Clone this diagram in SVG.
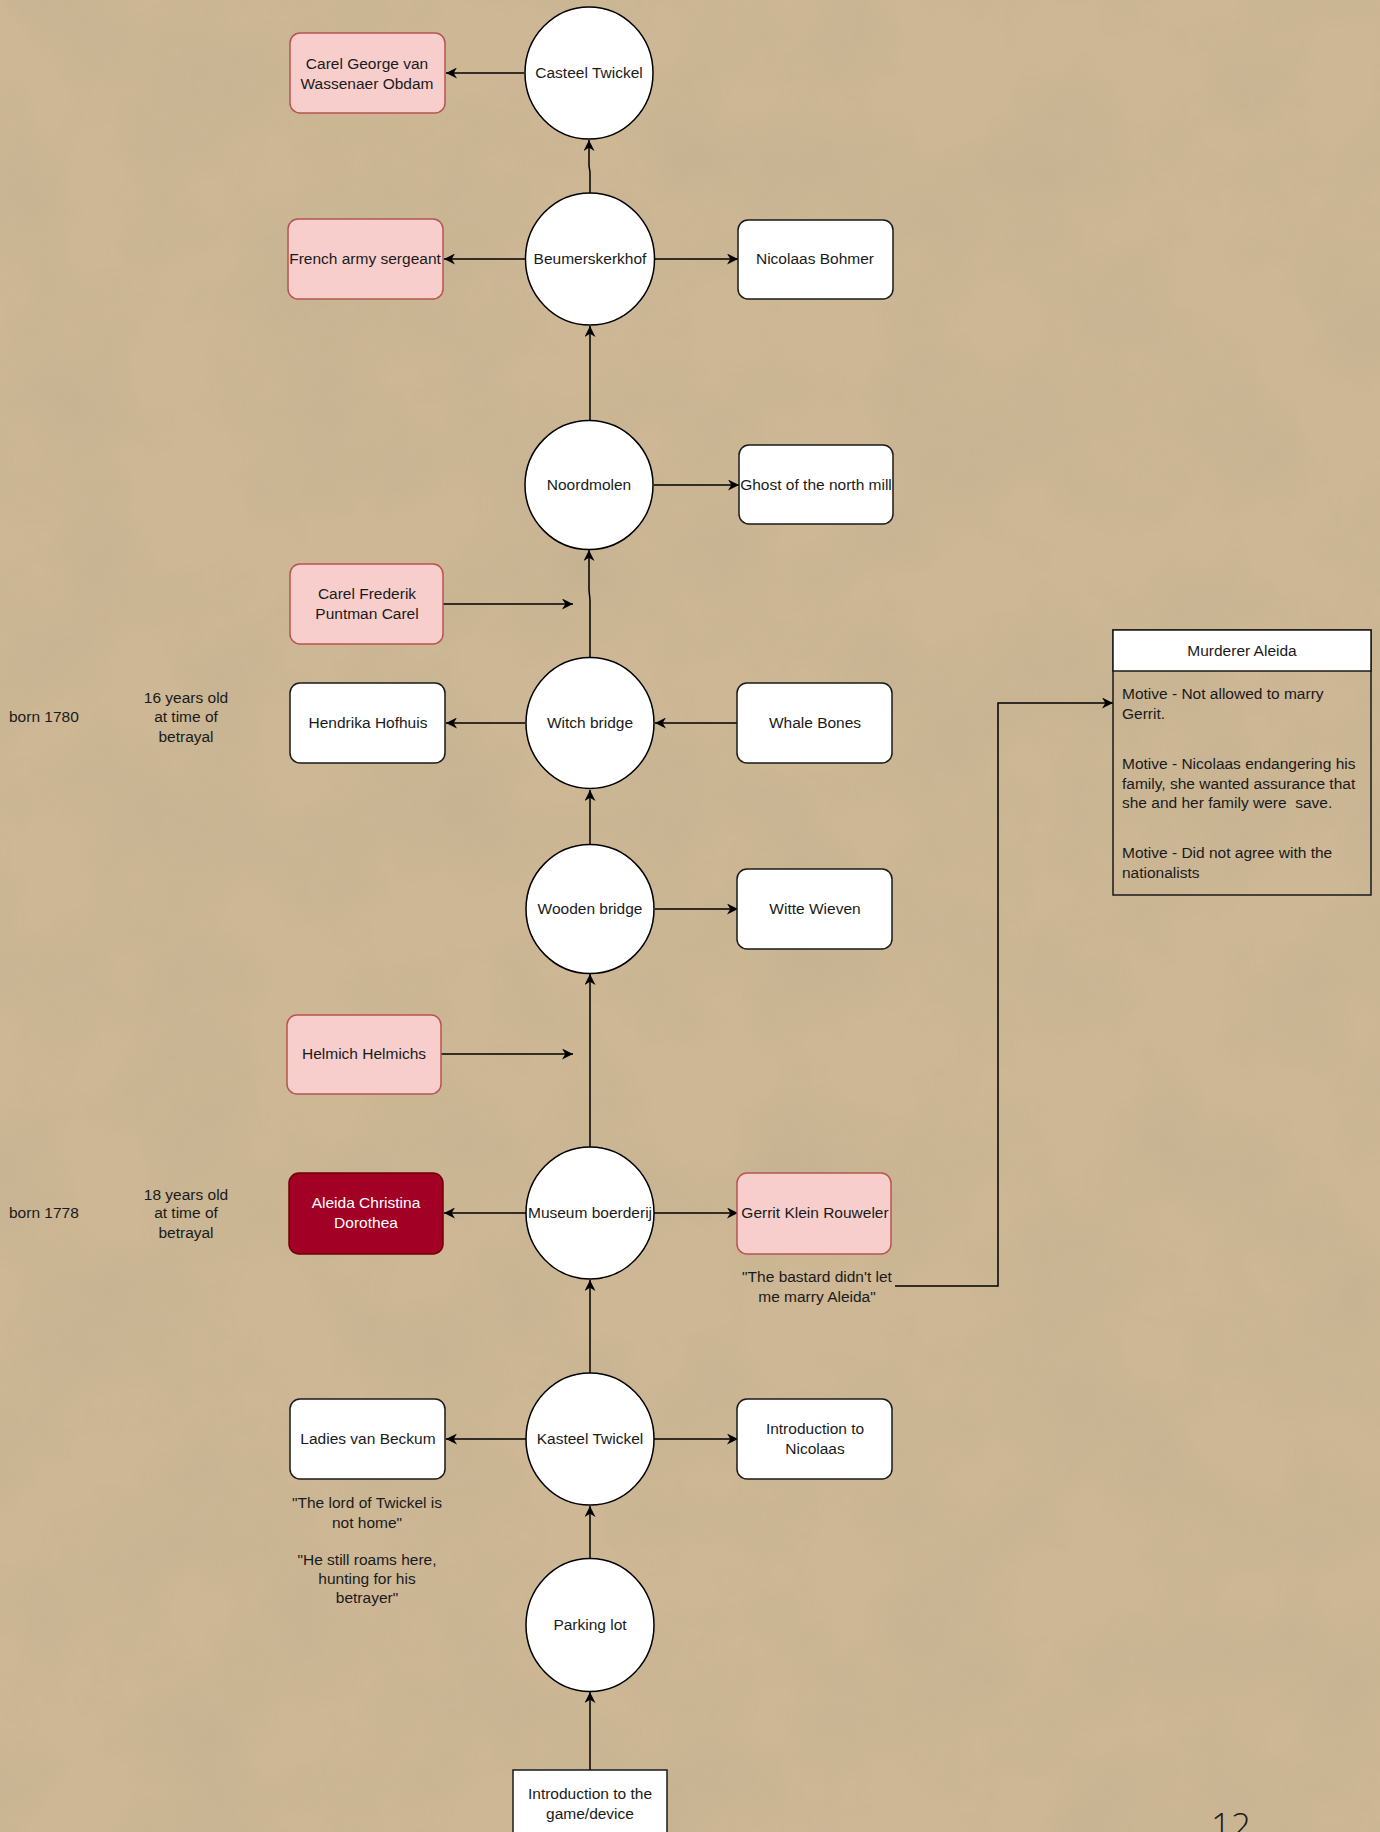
<svg xmlns="http://www.w3.org/2000/svg" width="1380" height="1832" viewBox="0 0 1380 1832">
<style>
text{font-family:"Liberation Sans",Arial,sans-serif;font-size:15.5px;fill:#1a1a1a}
.c{text-anchor:middle}
.l{text-anchor:start}
.loc{fill:#fff;stroke:#000;stroke-width:1.5}
.box{fill:#fff;stroke:#1a1a1a;stroke-width:1.5}
.pink{fill:#f8cecc;stroke:#b85450;stroke-width:1.5}
.dark{fill:#a20025;stroke:#6f0000;stroke-width:1.5}
.w{fill:#fff}
.edge{fill:none;stroke:#000;stroke-width:1.5;marker-end:url(#arr)}
</style>
<defs>
<marker id="arr" viewBox="0 0 10 10" refX="10" refY="5" markerWidth="11" markerHeight="11" markerUnits="userSpaceOnUse" orient="auto"><path d="M0,0 L10,5 L0,10 L3,5 z" fill="#000"/></marker>
<filter id="paper" x="0" y="0" width="100%" height="100%">
<feTurbulence type="fractalNoise" baseFrequency="0.008" numOctaves="4" seed="7"/>
<feColorMatrix type="matrix" values="0 0 0 0 0.55 0 0 0 0 0.44 0 0 0 0 0.28 0 0 0 1.6 -0.6"/>
</filter>
</defs>
<rect x="0" y="0" width="1380" height="1832" fill="#cdb795"/>
<rect x="0" y="0" width="1380" height="1832" filter="url(#paper)" opacity="0.85"/>

<g id="connectors">
<path class="edge" d="M590,193 V172 L589,166 V140"/>
<path class="edge" d="M524,73 H446"/>
<path class="edge" d="M525,259 H444"/>
<path class="edge" d="M655,259 H738"/>
<path class="edge" d="M590,421 V326"/>
<path class="edge" d="M654,485 H739"/>
<path class="edge" d="M443,604 H573"/>
<path class="edge" d="M590,658 V600 L589,590 V550"/>
<path class="edge" d="M525,723 H446"/>
<path class="edge" d="M737,723 H655"/>
<path class="edge" d="M590,845 V790"/>
<path class="edge" d="M655,909 H738"/>
<path class="edge" d="M441,1054 H573"/>
<path class="edge" d="M590,1148 V974"/>
<path class="edge" d="M526,1213 H444"/>
<path class="edge" d="M654,1213 H738"/>
<path class="edge" d="M895,1286 H998 V703 H1113"/>
<path class="edge" d="M590,1373 V1280"/>
<path class="edge" d="M526,1439 H446"/>
<path class="edge" d="M654,1439 H738"/>
<path class="edge" d="M590,1558 V1506"/>
<path class="edge" d="M590,1770 V1692"/>
</g>

<g id="casteel-twickel"><ellipse class="loc" cx="589" cy="73" rx="64" ry="66"/><text class="c" x="589" y="78">Casteel Twickel</text></g>
<g id="carel-george"><rect class="pink" x="290" y="33" width="155" height="80" rx="10"/><text class="c" x="367" y="69">Carel George van</text><text class="c" x="367" y="89">Wassenaer Obdam</text></g>

<g id="beumerskerkhof"><ellipse class="loc" cx="590" cy="259" rx="64.5" ry="66"/><text class="c" x="590" y="264">Beumerskerkhof</text></g>
<g id="french-army"><rect class="pink" x="288" y="219" width="155" height="80" rx="10"/><text class="c" x="365" y="264">French army sergeant</text></g>
<g id="nicolaas-bohmer"><rect class="box" x="738" y="220" width="155" height="79" rx="10"/><text class="c" x="815" y="264">Nicolaas Bohmer</text></g>

<g id="noordmolen"><ellipse class="loc" cx="589" cy="485" rx="64" ry="64.5"/><text class="c" x="589" y="490">Noordmolen</text></g>
<g id="ghost"><rect class="box" x="739" y="445" width="154" height="79" rx="10"/><text class="c" x="816" y="490">Ghost of the north mill</text></g>

<g id="carel-frederik"><rect class="pink" x="290" y="564" width="153" height="80" rx="10"/><text class="c" x="367" y="599">Carel Frederik</text><text class="c" x="367" y="619">Puntman Carel</text></g>

<g id="witch-bridge"><ellipse class="loc" cx="590" cy="723" rx="64" ry="65.5"/><text class="c" x="590" y="728">Witch bridge</text></g>
<g id="hendrika"><rect class="box" x="290" y="683" width="155" height="80" rx="10"/><text class="c" x="368" y="728">Hendrika Hofhuis</text></g>
<g id="whale-bones"><rect class="box" x="737" y="683" width="155" height="80" rx="10"/><text class="c" x="815" y="728">Whale Bones</text></g>
<g id="born-1780"><text class="l" x="9" y="722">born 1780</text></g>
<g id="age-16"><text class="c" x="186" y="703">16 years old</text><text class="c" x="186" y="722">at time of</text><text class="c" x="186" y="742">betrayal</text></g>

<g id="wooden-bridge"><ellipse class="loc" cx="590" cy="909" rx="64" ry="64.5"/><text class="c" x="590" y="914">Wooden bridge</text></g>
<g id="witte-wieven"><rect class="box" x="737" y="869" width="155" height="80" rx="10"/><text class="c" x="815" y="914">Witte Wieven</text></g>

<g id="helmich"><rect class="pink" x="287" y="1015" width="154" height="79" rx="10"/><text class="c" x="364" y="1059">Helmich Helmichs</text></g>

<g id="museum-boerderij"><ellipse class="loc" cx="590" cy="1213" rx="64" ry="66"/><text class="c" x="590" y="1218">Museum boerderij</text></g>
<g id="aleida"><rect class="dark" x="289" y="1173" width="154" height="81" rx="10"/><text class="c w" x="366" y="1208">Aleida Christina</text><text class="c w" x="366" y="1228">Dorothea</text></g>
<g id="gerrit"><rect class="pink" x="737" y="1173" width="154" height="81" rx="10"/><text class="c" x="815" y="1218">Gerrit Klein Rouweler</text></g>
<g id="gerrit-quote"><text class="c" x="817" y="1282">"The bastard didn't let</text><text class="c" x="817" y="1302">me marry Aleida"</text></g>
<g id="born-1778"><text class="l" x="9" y="1218">born 1778</text></g>
<g id="age-18"><text class="c" x="186" y="1200">18 years old</text><text class="c" x="186" y="1218">at time of</text><text class="c" x="186" y="1238">betrayal</text></g>

<g id="murderer-aleida">
<rect x="1113" y="630" width="258" height="265" fill="none" stroke="#1a1a1a" stroke-width="1.5"/>
<rect x="1113" y="630" width="258" height="41" fill="#fff" stroke="#1a1a1a" stroke-width="1.5"/>
<text class="c" x="1242" y="656">Murderer Aleida</text>
<text class="l" x="1122" y="699">Motive - Not allowed to marry</text>
<text class="l" x="1122" y="719">Gerrit.</text>
<text class="l" x="1122" y="769">Motive - Nicolaas endangering his</text>
<text class="l" x="1122" y="789">family, she wanted assurance that</text>
<text class="l" x="1122" y="808" xml:space="preserve">she and her family were  save.</text>
<text class="l" x="1122" y="858">Motive - Did not agree with the</text>
<text class="l" x="1122" y="878">nationalists</text>
</g>

<g id="kasteel-twickel"><ellipse class="loc" cx="590" cy="1439" rx="64" ry="66"/><text class="c" x="590" y="1444">Kasteel Twickel</text></g>
<g id="ladies"><rect class="box" x="290" y="1399" width="155" height="80" rx="10"/><text class="c" x="368" y="1444">Ladies van Beckum</text></g>
<g id="intro-nicolaas"><rect class="box" x="737" y="1399" width="155" height="80" rx="10"/><text class="c" x="815" y="1434">Introduction to</text><text class="c" x="815" y="1454">Nicolaas</text></g>
<g id="ladies-quote"><text class="c" x="367" y="1508">"The lord of Twickel is</text><text class="c" x="367" y="1528">not home"</text><text class="c" x="367" y="1565">"He still roams here,</text><text class="c" x="367" y="1584">hunting for his</text><text class="c" x="367" y="1603">betrayer"</text></g>

<g id="parking-lot"><ellipse class="loc" cx="590" cy="1625" rx="64" ry="66.5"/><text class="c" x="590" y="1630">Parking lot</text></g>
<g id="intro-game"><rect class="box" x="513" y="1770" width="154" height="80"/><text class="c" x="590" y="1799">Introduction to the</text><text class="c" x="590" y="1819">game/device</text></g>

<g id="page-number"><text class="l" x="1211" y="1838" style="font-family:'Open Sans','Liberation Sans',sans-serif;font-size:35px;font-weight:300">12</text></g>
</svg>
